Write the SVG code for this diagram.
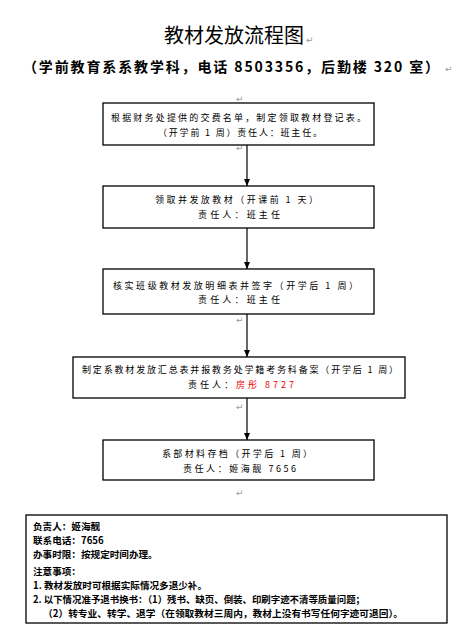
<svg xmlns="http://www.w3.org/2000/svg" width="466" height="634" viewBox="0 0 466 634">
<style>
.box{fill:#fff;stroke:#000;stroke-width:1.3}
.t{font-family:"Noto Sans CJK SC","Liberation Sans",sans-serif;font-size:9px;fill:#000}
.n{font-family:"Noto Sans CJK SC","Liberation Sans",sans-serif;font-size:9.6px;font-weight:bold;fill:#000}
.pm{font-family:"DejaVu Sans",sans-serif;font-size:9px;fill:#999}
.red{fill:#e00}
.conn line{stroke:#000;stroke-width:1.2}
</style>
<defs>
<marker id="ah" markerUnits="userSpaceOnUse" markerWidth="8" markerHeight="8" refX="7" refY="4" orient="auto">
<path d="M0,1 L7,4 L0,7 Z" fill="#000"/>
</marker>
</defs>
<rect width="466" height="634" fill="#fff"/>
<g id="title">
<text x="234" y="43" text-anchor="middle" font-family="Noto Sans CJK SC, sans-serif" font-size="20" fill="#000">教材发放流程图</text>
<text x="306" y="43" class="pm" font-size="11">↵</text>
<text x="231" y="72" text-anchor="middle" font-family="Noto Sans CJK SC, sans-serif" font-size="14" font-weight="bold" fill="#000" textLength="416" lengthAdjust="spacing">（学前教育系系教学科，电话 8503356，后勤楼 320 室）</text>
<text x="445" y="72" class="pm" font-size="11">↵</text>
</g>
<g class="conn" id="connectors">
<line x1="247" y1="145" x2="247" y2="186" marker-end="url(#ah)"/>
<line x1="247" y1="228" x2="247" y2="269" marker-end="url(#ah)"/>
<line x1="247" y1="314" x2="247" y2="357" marker-end="url(#ah)"/>
<line x1="247" y1="398" x2="247" y2="440" marker-end="url(#ah)"/>
</g>
<g id="marks">
<text x="236" y="102" class="pm">↵</text>
<text x="236" y="151" class="pm">↵</text>
<text x="236" y="323" class="pm">↵</text>
<text x="236" y="410" class="pm">↵</text>
<text x="236" y="496" class="pm">↵</text>
</g>
<g id="step1">
<rect class="box" x="103" y="103" width="271" height="42"/>
<text class="t" x="111" y="121" textLength="255" lengthAdjust="spacing">根据财务处提供的交费名单，制定领取教材登记表。</text>
<text class="t" x="158" y="136" textLength="164" lengthAdjust="spacing">（开学前 1 周）责任人：班主任。</text>
</g>
<g id="step2">
<rect class="box" x="103" y="186" width="271" height="42"/>
<text class="t" x="155" y="203" textLength="163" lengthAdjust="spacing">领取并发放教材（开课前 1 天）</text>
<text class="t" x="198" y="218" textLength="82" lengthAdjust="spacing">责任人：班主任</text>
</g>
<g id="step3">
<rect class="box" x="103" y="269" width="271" height="45"/>
<text class="t" x="113" y="289" textLength="245" lengthAdjust="spacing">核实班级教材发放明细表并签字（开学后 1 周）</text>
<text class="t" x="198" y="303" textLength="82" lengthAdjust="spacing">责任人：班主任</text>
</g>
<g id="step4">
<rect class="box" x="73" y="357" width="332" height="41"/>
<text class="t" x="82" y="373" textLength="316" lengthAdjust="spacing">制定系教材发放汇总表并报教务处学籍考务科备案（开学后 1 周）</text>
<text class="t" x="188" y="388" textLength="106" lengthAdjust="spacing">责任人：<tspan class="red">房彤  8727</tspan></text>
</g>
<g id="step5">
<rect class="box" x="103" y="440" width="271" height="40"/>
<text class="t" x="162" y="457" textLength="150" lengthAdjust="spacing">系部材料存档（开学后 1 周）</text>
<text class="t" x="183" y="472" textLength="113" lengthAdjust="spacing">责任人：姬海靓 7656</text>
</g>
<g id="notes">
<rect class="box" x="26" y="515" width="421" height="108"/>
<text class="n" x="33" y="530">负责人：姬海靓</text>
<text class="n" x="33" y="544">联系电话：7656</text>
<text class="n" x="33" y="558">办事时限：按规定时间办理。</text>
<text class="n" x="33" y="575">注意事项：</text>
<text class="n" x="33" y="589">1. 教材发放时可根据实际情况多退少补。</text>
<text class="n" x="33" y="603" textLength="332" lengthAdjust="spacingAndGlyphs">2. 以下情况准予退书换书：（1）残书、缺页、倒装、印刷字迹不清等质量问题；</text>
<text class="n" x="43" y="617" textLength="360" lengthAdjust="spacingAndGlyphs">（2）转专业、转学、退学（在领取教材三周内，教材上没有书写任何字迹可退回）。</text>
</g>
</svg>
